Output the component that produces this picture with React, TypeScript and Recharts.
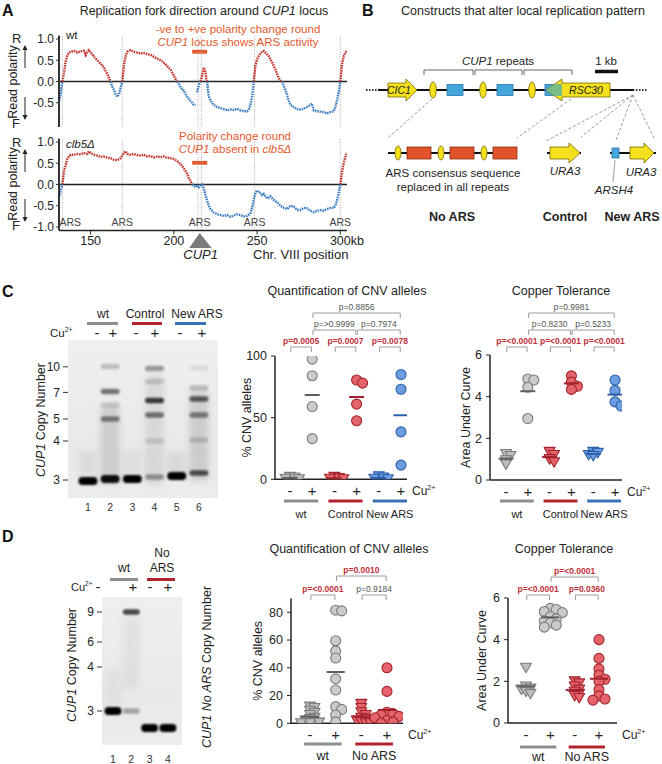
import React from 'react';
import {
  LineChart, Line, XAxis, YAxis, ReferenceLine, ReferenceArea, ScatterChart, Scatter,
} from 'recharts';

const FONT = '"Liberation Sans", Arial, Helvetica, sans-serif';
const INK = '#232323';
const ORANGE = '#e5572c';
const POL_RED = '#c3362d';
const POL_BLUE = '#3d7dc3';

/* ---------------- Panel A data ---------------- */
const chrTicks = [150, 200, 250, 300];
const polarityTicks = [-1, -0.5, 0, 0.5, 1];
const arsSites = [133, 169, 214.5, 216.5, 248.5, 300];
const arsLabelSites = [133, 169, 215.5, 248.5, 300];
const cup1Locus = [211, 220];
const cup1Centre = 215.5;

const wtPolarity: [number, number | null][] = [
  [131, -0.46], [132, -0.3], [133, 0], [134, 0.2], [135, 0.48], [136, 0.62], [137, 0.68], [138, 0.7],
  [140, 0.72], [142, 0.68], [144, 0.71], [146, 0.72], [147, 0.62], [148, 0.7], [149, 0.74], [150, 0.68],
  [151, 0.64], [152, 0.58], [154, 0.5], [156, 0.42], [158, 0.33], [159, 0.25], [160, 0.18], [161, 0.08],
  [162, 0], [163, -0.12], [164, -0.2], [165, -0.3], [166, -0.36], [167, -0.3], [168, -0.15], [169, 0],
  [170, 0.38], [171, 0.6], [172, 0.7], [174, 0.74], [176, 0.7], [178, 0.68], [180, 0.66], [182, 0.67],
  [184, 0.64], [186, 0.63], [188, 0.58], [190, 0.54], [192, 0.5], [194, 0.44], [196, 0.36], [198, 0.28],
  [200, 0.14], [201, 0.06], [202, 0], [203, -0.06], [204, -0.14], [206, -0.22], [208, -0.36], [210, -0.46],
  [211, -0.5], [212, -0.55], [213, -0.56], [213.5, null], [214, -0.25], [215, -0.08], [216, 0], [217, 0.15],
  [218, 0.33], [219, 0.22], [219.5, 0.05], [220, 0], [220.5, -0.2], [221, -0.35], [222, -0.45], [224, -0.55],
  [226, -0.6], [228, -0.63], [230, -0.65], [232, -0.68], [234, -0.66], [236, -0.67], [238, -0.64], [240, -0.68],
  [242, -0.7], [244, -0.7], [245, -0.65], [246, -0.55], [247, -0.35], [248, 0], [249, 0.38], [250, 0.52],
  [251, 0.6], [252, 0.66], [253, 0.7], [254, 0.72], [255, 0.68], [256, 0.64], [257, 0.6], [258, 0.52],
  [259, 0.46], [260, 0.36], [261, 0.28], [262, 0.18], [263, 0.08], [264, 0.02], [265, 0], [266, -0.1],
  [267, -0.2], [268, -0.32], [269, -0.45], [270, -0.55], [272, -0.6], [274, -0.65], [276, -0.66], [278, -0.64],
  [280, -0.6], [282, -0.55], [283, -0.52], [284, -0.68], [286, -0.7], [288, -0.71], [290, -0.72], [292, -0.75],
  [294, -0.72], [296, -0.7], [297, -0.6], [298, -0.45], [299, -0.25], [300, 0], [301, 0.4], [302, 0.6],
  [303, 0.68], [304, 0.72],
];

const clb5Polarity: [number, number | null][] = [
  [131, -0.3], [132, -0.15], [133, 0], [134, 0.32], [135, 0.45], [136, 0.6], [137, 0.66], [138, 0.7],
  [140, 0.7], [142, 0.72], [144, 0.71], [146, 0.74], [148, 0.72], [149, 0.78], [150, 0.74], [152, 0.7],
  [154, 0.68], [156, 0.65], [158, 0.66], [160, 0.63], [162, 0.62], [164, 0.58], [166, 0.57], [168, 0.62],
  [170, 0.75], [171, 0.78], [172, 0.72], [174, 0.7], [176, 0.72], [178, 0.69], [180, 0.68], [182, 0.7],
  [184, 0.66], [186, 0.67], [188, 0.64], [190, 0.66], [192, 0.64], [194, 0.66], [196, 0.63], [198, 0.62],
  [200, 0.6], [202, 0.55], [204, 0.48], [206, 0.38], [208, 0.25], [209, 0.15], [210, 0.08], [211, 0],
  [212, -0.04], [213, -0.06], [214, -0.03], [215, -0.06], [216, -0.02], [217, 0], [218, -0.1], [219, -0.25],
  [220, -0.38], [221, -0.5], [222, -0.58], [224, -0.66], [226, -0.7], [228, -0.72], [230, -0.74], [232, -0.72],
  [234, -0.76], [236, -0.73], [238, -0.7], [240, -0.72], [242, -0.75], [244, -0.74], [246, -0.68], [247, -0.55],
  [248, -0.35], [249, -0.2], [250, -0.14], [251, -0.18], [252, -0.2], [253, -0.25], [254, -0.22], [256, -0.33],
  [258, -0.28], [260, -0.36], [262, -0.42], [264, -0.5], [266, -0.55], [268, -0.58], [270, -0.5], [272, -0.52],
  [274, -0.6], [276, -0.6], [278, -0.55], [280, -0.56], [282, -0.62], [284, -0.65], [286, -0.62], [288, -0.6],
  [290, -0.62], [292, -0.58], [294, -0.55], [296, -0.55], [297, -0.5], [298, -0.38], [299, -0.2], [300, 0],
  [301, 0.3], [302, 0.5], [303, 0.65], [304, 0.75],
];

/* ---------------- Panel C / D gel data (migration in mm from well) ---------------- */
const cGelTickMm = [13.4, 26.2, 39.5, 50.5, 70];
const cGelTickLabels = ['10', '7', '5', '4', '3'];
const cGelLanes = [1, 2, 3, 4, 5, 6];
const cGelBands = [
  { lane: 1, mm: 70.5, level: 1 },
  { lane: 2, mm: 13.3, level: 0.2 }, { lane: 2, mm: 25.8, level: 0.5 }, { lane: 2, mm: 32.5, level: 0.12 },
  { lane: 2, mm: 39.5, level: 0.45 }, { lane: 2, mm: 69.5, level: 0.95 },
  { lane: 3, mm: 69.5, level: 1 },
  { lane: 4, mm: 14.2, level: 0.35 }, { lane: 4, mm: 20.8, level: 0.15 }, { lane: 4, mm: 30.3, level: 0.75 },
  { lane: 4, mm: 37.5, level: 0.5 }, { lane: 4, mm: 50.5, level: 0.12 }, { lane: 4, mm: 68.5, level: 0.35 },
  { lane: 5, mm: 68, level: 1 },
  { lane: 6, mm: 14, level: 0.08 }, { lane: 6, mm: 24, level: 0.2 }, { lane: 6, mm: 29.5, level: 0.6 },
  { lane: 6, mm: 37.5, level: 0.45 }, { lane: 6, mm: 50, level: 0.15 }, { lane: 6, mm: 66.5, level: 0.65 },
];
const cGelSmears = [
  { lane: 1, mm: 62, span: 14, level: 0.06 }, { lane: 2, mm: 52, span: 40, level: 0.12 },
  { lane: 3, mm: 62, span: 14, level: 0.05 }, { lane: 4, mm: 45, span: 55, level: 0.08 },
  { lane: 5, mm: 62, span: 12, level: 0.08 }, { lane: 6, mm: 48, span: 45, level: 0.13 },
];

const dGelLeftTickMm = [7.5, 22.5, 35, 57];
const dGelLeftLabels = ['9', '6', '4', '3'];
const dGelRightTickMm = [15.5, 30, 43, 65.5];
const dGelRightLabels = ['9', '6', '4', '3'];
const dGelLanes = [1, 2, 3, 4];
const dGelBands = [
  { lane: 1, mm: 57, level: 1 },
  { lane: 2, mm: 7.5, level: 0.7 }, { lane: 2, mm: 57, level: 0.3 },
  { lane: 3, mm: 65.5, level: 1 },
  { lane: 4, mm: 65.5, level: 1 },
];
const dGelSmears = [
  { lane: 2, mm: 28, span: 36, level: 0.05 }, { lane: 1, mm: 45, span: 18, level: 0.04 },
];

/* ---------------- Panel C / D dot plot data ---------------- */
const cStrains = ['wt', 'Control', 'New ARS'];
const dStrains = ['wt', 'No ARS'];

const cCnvWtMinus = [2, 1.5, 0.5, 0];
const cCnvWtPlus = [97.5, 84, 59, 33];
const cCnvCtrlMinus = [2, 1, 0.5, 0];
const cCnvCtrlPlus = [80.5, 78, 61, 47.5];
const cCnvNewMinus = [2.5, 1.5, 0.5, 0];
const cCnvNewPlus = [85, 73, 38.5, 11.5];

const cAucWtMinus = [1.25, 1.15, 0.95, 0.75];
const cAucWtPlus = [4.85, 4.8, 4.45, 2.95];
const cAucCtrlMinus = [1.35, 1.2, 1.0, 0.85];
const cAucCtrlPlus = [5.0, 4.7, 4.5, 4.35];
const cAucNewMinus = [1.35, 1.3, 1.2, 1.15];
const cAucNewPlus = [4.8, 4.3, 3.75, 3.55];

const dCnvWtMinus = [12, 11, 9, 7.5, 6, 4, 3, 2, 1, 0.5, 0, 0];
const dCnvWtPlus = [81.5, 81, 59.5, 52, 47, 32, 24, 12, 10, 6, 1];
const dCnvNoArsMinus = [14, 11, 8, 6, 4, 3, 2, 1, 0, 0];
const dCnvNoArsPlus = [40, 23, 8, 7, 6, 5, 4, 2, 1, 0];

const dAucWtMinus = [2.65, 1.75, 1.65, 1.6, 1.5, 1.4];
const dAucWtPlus = [5.5, 5.45, 5.35, 5.3, 5.1, 5.0, 4.9, 4.8, 4.7, 4.6];
const dAucNoArsMinus = [2.0, 1.9, 1.75, 1.6, 1.5, 1.4, 1.3, 1.2];
const dAucNoArsPlus = [4.0, 3.1, 2.6, 2.3, 2.1, 2.0, 1.6, 1.3, 1.15, 1.1];

const cCnvStats = [
  { a: 2, b: 6, row: 0, p: 'p=0.8856', sig: false },
  { a: 2, b: 4, row: 1, p: 'p=>0.9999', sig: false },
  { a: 4, b: 6, row: 1, p: 'p=0.7974', sig: false },
  { a: 1, b: 2, row: 2, p: 'p=0.0005', sig: true },
  { a: 3, b: 4, row: 2, p: 'p=0.0007', sig: true },
  { a: 5, b: 6, row: 2, p: 'p=0.0078', sig: true },
];
const cAucStats = [
  { a: 2, b: 6, row: 0, p: 'p=0.9981', sig: false },
  { a: 2, b: 4, row: 1, p: 'p=0.8230', sig: false },
  { a: 4, b: 6, row: 1, p: 'p=0.5233', sig: false },
  { a: 1, b: 2, row: 2, p: 'p=<0.0001', sig: true },
  { a: 3, b: 4, row: 2, p: 'p=<0.0001', sig: true },
  { a: 5, b: 6, row: 2, p: 'p=<0.0001', sig: true },
];
const dCnvStats = [
  { a: 2, b: 4, row: 0, p: 'p=0.0010', sig: true },
  { a: 1, b: 2, row: 1, p: 'p=<0.0001', sig: true },
  { a: 3, b: 4, row: 1, p: 'p=0.9184', sig: false },
];
const dAucStats = [
  { a: 2, b: 4, row: 0, p: 'p=<0.0001', sig: true },
  { a: 1, b: 2, row: 1, p: 'p=<0.0001', sig: true },
  { a: 3, b: 4, row: 1, p: 'p=0.0360', sig: true },
];

/* ---------------- styling ---------------- */
type Tone = { fill: string; tri: string; stroke: string; mean: string; bar: string };
const TONES: Record<string, Tone> = {
  gray: { fill: '#cbcbcb', tri: '#bdbdbd', stroke: '#7b7b7b', mean: '#5e5e5e', bar: '#8e8e8e' },
  red: { fill: '#e5646c', tri: '#e5646c', stroke: '#a3232c', mean: '#a3232c', bar: '#b3232e' },
  blue: { fill: '#6b9de0', tri: '#6b9de0', stroke: '#2c5fab', mean: '#2c5fab', bar: '#3a72ba' },
};
const SIG_RED = '#c0303a';

/* ---------------- helpers ---------------- */
const mean = (v: number[]) => v.reduce((s, x) => s + x, 0) / v.length;

function swarm(values: number[], pxPerY: number, minD: number, step: number): number[] {
  const order = values.map((_, i) => i).sort((a, b) => values[b] - values[a]);
  const placed: { x: number; y: number }[] = [];
  const offs = new Array(values.length).fill(0);
  for (const i of order) {
    const y = values[i] * pxPerY;
    let chosen = 0;
    for (let k = 0; k < 16; k++) {
      const cand = k === 0 ? 0 : (k % 2 ? 1 : -1) * Math.ceil(k / 2) * step;
      if (placed.every((p) => Math.hypot(p.x - cand, p.y - y) >= minD)) { chosen = cand; break; }
    }
    placed.push({ x: chosen, y });
    offs[i] = chosen;
  }
  return offs;
}

const Cu = ({ x, y, size = 12 }: { x: number; y: number; size?: number }) => (
  <text x={x} y={y} fontSize={size} fill={INK}>
    Cu<tspan fontSize={size * 0.6} dy={-size * 0.42}>2+</tspan>
  </text>
);

/* ---------------- Panel A ---------------- */
const A_LEFT = 59;
const A_RIGHT = 347;
const A_DOMAIN: [number, number] = [131, 304];
const A_PLOT_H = 91.8;
const A_EXTRA = 35;
const aX = (kb: number) => A_LEFT + ((kb - A_DOMAIN[0]) / (A_DOMAIN[1] - A_DOMAIN[0])) * (A_RIGHT - A_LEFT);

function ChrTick(props: any) {
  const { x, y, payload } = props;
  const v = payload.value;
  const last = v === chrTicks[chrTicks.length - 1];
  return (
    <text x={last ? x - 10.4 : x} y={y + 10} textAnchor={last ? 'start' : 'middle'} fontSize={12.5} fill={INK} fontFamily={FONT}>
      {v}{last ? 'kb' : ''}
    </text>
  );
}

function PolarityChart({ series, plotTop, barLevel, withAxis }: { series: [number, number | null][]; plotTop: number; barLevel: number; withAxis: boolean }) {
  const rows = series.map(([kb, v]) => ({
    kb,
    pos: v === null ? null : v >= 0 ? v : null,
    neg: v === null ? null : v <= 0 ? v : null,
  }));
  const axisH = withAxis ? 30 : 0;
  return (
    <div style={{ position: 'absolute', left: 0, top: 0 }}>
      <LineChart width={A_RIGHT + A_EXTRA} height={plotTop + A_PLOT_H + axisH} data={rows}
        margin={{ top: plotTop, right: A_EXTRA, bottom: 0, left: 0 }}>
        <XAxis dataKey="kb" type="number" domain={A_DOMAIN} ticks={chrTicks} hide={!withAxis} height={axisH}
          allowDataOverflow interval={0} axisLine={{ stroke: INK, strokeWidth: 1.5 }} tickLine={{ stroke: INK }}
          tickSize={4} tickMargin={1} tick={<ChrTick />} />
        <YAxis type="number" domain={[-1.08, 1.08]} ticks={polarityTicks} width={A_LEFT} allowDataOverflow
          tickFormatter={(v: number) => v.toFixed(1)} axisLine={{ stroke: '#333', strokeWidth: 2 }}
          tickLine={{ stroke: '#333' }} tickSize={3} tickMargin={2} tick={{ fontSize: 12, fill: INK, fontFamily: FONT }} />
        {arsSites.map((s) => (
          <ReferenceLine key={s} x={s} stroke="#a8a8a8" strokeDasharray="1 1.5" strokeWidth={1} />
        ))}
        <ReferenceLine y={0} stroke="#222" strokeWidth={1.5} />
        <ReferenceArea x1={cup1Locus[0]} x2={cup1Locus[1]} y1={barLevel - 0.045} y2={barLevel + 0.045}
          fill={ORANGE} fillOpacity={1} stroke="none" />
        <Line dataKey="pos" type="linear" stroke={POL_RED} strokeWidth={2.4} strokeDasharray="1.6 0.9"
          dot={false} isAnimationActive={false} connectNulls={false} />
        <Line dataKey="neg" type="linear" stroke={POL_BLUE} strokeWidth={2.4} strokeDasharray="1.6 0.9"
          dot={false} isAnimationActive={false} connectNulls={false} />
      </LineChart>
    </div>
  );
}

function PolarityArrows({ rY, fY, midY }: { rY: number; fY: number; midY: number }) {
  return (
    <g>
      <text x={12} y={rY} fontSize={13} fill={INK}>R</text>
      <text x={12} y={fY} fontSize={13} fill={INK}>F</text>
      <line x1={25} x2={25} y1={rY + 25} y2={rY + 5} stroke={INK} strokeWidth={1} />
      <polygon points={`${22.5},${rY + 7} ${27.5},${rY + 7} ${25},${rY + 2}`} fill={INK} />
      <line x1={25} x2={25} y1={fY - 31} y2={fY - 11} stroke={INK} strokeWidth={1} />
      <polygon points={`${22.5},${fY - 13} ${27.5},${fY - 13} ${25},${fY - 8}`} fill={INK} />
      <text x={0} y={0} fontSize={12.5} fill={INK} textAnchor="middle" transform={`translate(16.5 ${midY}) rotate(-90)`}>
        Read polarity
      </text>
    </g>
  );
}

/* ---------------- Gel charts ---------------- */
type GelSpec = {
  left: number; top: number; plotLeft: number; plotTop: number; plotW: number; plotH: number;
  xDomain: [number, number]; yDomain: [number, number]; bandW: number; rightW: number; laneOffset: number;
};
const cGelSpec: GelSpec = { left: 10, top: 300, plotLeft: 68, plotTop: 340, plotW: 150, plotH: 158, xDomain: [0.1, 6.86], yDomain: [0, 79], bandW: 19, rightW: 0, laneOffset: 13 };
const dGelSpec: GelSpec = { left: 50, top: 560, plotLeft: 102, plotTop: 597, plotW: 80, plotH: 148, xDomain: [0.4, 4.77], yDomain: [0, 74], bandW: 17, rightW: 30, laneOffset: 18 };

function GelChart({ spec, lanes, bands, smears, leftTicks, leftLabels, rightTicks, rightLabels }: any) {
  const pxPerMm = spec.plotH / (spec.yDomain[1] - spec.yDomain[0]);
  const yAxisW = spec.plotLeft - spec.left;
  const width = yAxisW + spec.plotW + spec.rightW;
  const height = spec.plotTop - spec.top + spec.plotH + 22;
  const pts = [...smears, ...bands].map((b: any) => ({ ...b, x: b.lane, y: b.mm }));
  const bandShape = (p: any) => {
    const b = p.payload;
    if (p.cx == null || p.cy == null) return <g />;
    const h = b.span ? b.span * pxPerMm : b.level > 0.8 ? 8 : 5.5;
    return (
      <rect x={p.cx - spec.bandW / 2} y={p.cy - h / 2} width={spec.bandW} height={h} rx={Math.min(h / 2, 4)}
        fill="#000" fillOpacity={b.level} filter={b.span ? 'url(#smearBlur)' : 'url(#bandBlur)'} />
    );
  };
  const tickStyle = { fontSize: 12, fill: INK, fontFamily: FONT };
  return (
    <div style={{ position: 'absolute', left: spec.left, top: spec.top }}>
      <ScatterChart width={width} height={height}
        margin={{ top: spec.plotTop - spec.top, right: 0, bottom: 0, left: 0 }}>
        <XAxis type="number" dataKey="x" domain={spec.xDomain} ticks={lanes} interval={0} height={22}
          axisLine={false} tickLine={false} tickSize={0} tickMargin={0}
          tick={(p: any) => (
            <text x={p.x} y={p.y + spec.laneOffset} textAnchor="middle" fontSize={10.5} fill="#333" fontFamily={FONT}>
              {p.payload.value}
            </text>
          )} />
        <YAxis yAxisId="left" type="number" dataKey="y" reversed domain={spec.yDomain} ticks={leftTicks} interval={0}
          width={yAxisW} axisLine={false} tickLine={{ stroke: '#333' }} tickSize={5} tickMargin={3}
          tickFormatter={(v: number) => leftLabels[leftTicks.indexOf(v)]} tick={tickStyle} />
        {rightTicks ? (
          <YAxis yAxisId="right" orientation="right" type="number" reversed domain={spec.yDomain} ticks={rightTicks}
            interval={0} width={spec.rightW} axisLine={false} tickLine={{ stroke: '#333' }} tickSize={5} tickMargin={2}
            tickFormatter={(v: number) => rightLabels[rightTicks.indexOf(v)]} tick={tickStyle} />
        ) : null}
        <ReferenceArea yAxisId="left" x1={spec.xDomain[0]} x2={spec.xDomain[1]} y1={spec.yDomain[0]} y2={spec.yDomain[1]}
          fill="url(#gelBg)" fillOpacity={1} stroke="none" />
        <Scatter yAxisId="left" data={pts} isAnimationActive={false} shape={bandShape} />
        {rightTicks ? <Scatter yAxisId="right" data={[]} isAnimationActive={false} /> : null}
      </ScatterChart>
    </div>
  );
}

/* ---------------- Dot plots ---------------- */
type PlotSpec = {
  left: number; top: number; plotLeft: number; plotTop: number; plotW: number; plotH: number;
  xDomain: [number, number]; yDomain: [number, number]; yTicks: number[]; r: number; meanW: number; signOffset: number;
};
const cCnvSpec: PlotSpec = { left: 200, top: 300, plotLeft: 275, plotTop: 356, plotW: 132, plotH: 123.3, xDomain: [0.325, 6.27], yDomain: [0, 100], yTicks: [0, 50, 100], r: 5, meanW: 15, signOffset: 17 };
const cAucSpec: PlotSpec = { left: 430, top: 300, plotLeft: 490, plotTop: 355, plotW: 132, plotH: 125, xDomain: [0.266, 6.32], yDomain: [0, 6], yTicks: [0, 2, 4, 6], r: 5, meanW: 15, signOffset: 17 };
const dCnvSpec: PlotSpec = { left: 220, top: 560, plotLeft: 291, plotTop: 598.4, plotW: 112, plotH: 124.9, xDomain: [0.258, 4.625], yDomain: [0, 90], yTicks: [0, 20, 40, 60, 80], r: 5, meanW: 18, signOffset: 17 };
const dAucSpec: PlotSpec = { left: 440, top: 560, plotLeft: 508, plotTop: 598, plotW: 109, plotH: 125, xDomain: [0.262, 4.74], yDomain: [0, 6], yTicks: [0, 2, 4, 6], r: 5, meanW: 18, signOffset: 17 };

const xPx = (s: PlotSpec, x: number) => s.plotLeft + ((x - s.xDomain[0]) / (s.xDomain[1] - s.xDomain[0])) * s.plotW;

type Grp = { x: number; values: number[]; cu: boolean; tone: Tone; strain: number };
function makeGroups(sets: number[][], tones: string[]): Grp[] {
  return sets.map((values, i) => ({
    x: i + 1, values, cu: i % 2 === 1, tone: TONES[tones[Math.floor(i / 2)]], strain: Math.floor(i / 2),
  }));
}

function DotPlot({ spec, groups }: { spec: PlotSpec; groups: Grp[] }) {
  const pxPerX = spec.plotW / (spec.xDomain[1] - spec.xDomain[0]);
  const pxPerY = spec.plotH / (spec.yDomain[1] - spec.yDomain[0]);
  const yAxisW = spec.plotLeft - spec.left;
  const axisH = 30;
  const width = yAxisW + spec.plotW + 4;
  const height = spec.plotTop - spec.top + spec.plotH + axisH;
  return (
    <div style={{ position: 'absolute', left: spec.left, top: spec.top }}>
      <ScatterChart width={width} height={height} margin={{ top: spec.plotTop - spec.top, right: 4, bottom: 0, left: 0 }}>
        <XAxis type="number" dataKey="x" domain={spec.xDomain} ticks={groups.map((g) => g.x)} interval={0}
          allowDataOverflow height={axisH} axisLine={{ stroke: INK, strokeWidth: 1.5 }} tickLine={false}
          tickSize={0} tickMargin={0}
          tick={(p: any) => {
            const g = groups.find((gg) => gg.x === p.payload.value);
            return (
              <text x={p.x} y={p.y + spec.signOffset} textAnchor="middle" fontSize={15} fill={INK} fontFamily={FONT}>
                {g && g.cu ? '+' : '-'}
              </text>
            );
          }} />
        <YAxis type="number" dataKey="y" domain={spec.yDomain} ticks={spec.yTicks} interval={0} width={yAxisW}
          allowDataOverflow axisLine={{ stroke: INK, strokeWidth: 1.5 }} tickLine={{ stroke: INK }} tickSize={4}
          tickMargin={4} tick={{ fontSize: 12.5, fill: INK, fontFamily: FONT }} />
        {groups.map((g, gi) => {
          const offs = g.cu
            ? swarm(g.values, pxPerY, spec.r * 1.15, spec.r * 0.6)
            : swarm(g.values, pxPerY, spec.r * 0.8, spec.r * 0.45);
          const pts = g.values.map((v, i) => ({ x: g.x + offs[i] / pxPerX, y: v }));
          const shape = (p: any) => {
            if (p.cx == null || p.cy == null) return <g />;
            const { cx, cy } = p;
            if (g.cu) {
              return <circle cx={cx} cy={cy} r={spec.r} fill={g.tone.fill} stroke={g.tone.stroke} strokeWidth={1.1} />;
            }
            const w = spec.r * 1.1;
            return (
              <polygon points={`${cx - w},${cy - 4.5} ${cx + w},${cy - 4.5} ${cx},${cy + 5}`}
                fill={g.tone.tri} stroke={g.tone.stroke} strokeWidth={1.1} strokeLinejoin="round" />
            );
          };
          return <Scatter key={'s' + gi} data={pts} isAnimationActive={false} shape={shape} />;
        })}
        {groups.map((g, gi) => (
          <Scatter key={'m' + gi} data={[{ x: g.x, y: mean(g.values) }]} isAnimationActive={false}
            shape={(p: any) => (p.cx == null ? <g /> : (
              <line x1={p.cx - spec.meanW / 2} x2={p.cx + spec.meanW / 2} y1={p.cy} y2={p.cy}
                stroke={g.tone.mean} strokeWidth={2} />
            ))} />
        ))}
      </ScatterChart>
    </div>
  );
}

function PlotDecor({ spec, groups, strains, stats, rows, underlineY, labelY, labelSize, title, titleX, titleY, yTitle, yTitleX }: any) {
  const axisY = spec.plotTop + spec.plotH;
  const right = spec.plotLeft + spec.plotW;
  const nStrains = strains.length;
  return (
    <g>
      <text x={titleX} y={titleY} fontSize={12.5} textAnchor="middle" fill={INK}>{title}</text>
      <text x={0} y={0} fontSize={12.5} textAnchor="middle" fill={INK}
        transform={`translate(${yTitleX} ${spec.plotTop + spec.plotH / 2}) rotate(-90)`}>{yTitle}</text>
      {stats.map((s: any, i: number) => {
        const xa = xPx(spec, s.a) + 0.8;
        const xb = xPx(spec, s.b) - 0.8;
        const y = rows[s.row];
        return (
          <g key={i}>
            <path d={`M${xa},${y + 5} V${y} H${xb} V${y + 5}`} stroke="#9c9c9c" strokeWidth={1} fill="none" />
            <text x={(xa + xb) / 2} y={y - 3} fontSize={8.5} textAnchor="middle"
              fill={s.sig ? SIG_RED : '#555'} fontWeight={s.sig ? 'bold' : 'normal'}>{s.p}</text>
          </g>
        );
      })}
      <Cu x={right + 5} y={axisY + 16} size={12} />
      {Array.from({ length: nStrains }).map((_, k) => {
        const g1 = groups[k * 2];
        const g2 = groups[k * 2 + 1];
        const cx = (xPx(spec, g1.x) + xPx(spec, g2.x)) / 2;
        const half = (xPx(spec, g2.x) - xPx(spec, g1.x)) / 2 + 6;
        return (
          <g key={k}>
            <line x1={cx - half} x2={cx + half} y1={underlineY} y2={underlineY} stroke={g1.tone.bar} strokeWidth={3} />
            <text x={cx} y={labelY} fontSize={labelSize} textAnchor="middle" fill={INK}>{strains[k]}</text>
          </g>
        );
      })}
    </g>
  );
}

/* ---------------- Panel B (schematic) ---------------- */
const YEL = '#f4e01c';
const YEL_S = '#7b6c00';
function arrowPts(x1: number, x2: number, y: number, body: number, head: number, headLen: number, dir: 'r' | 'l') {
  if (dir === 'r') {
    const hx = x2 - headLen;
    return `${x1},${y - body / 2} ${hx},${y - body / 2} ${hx},${y - head / 2} ${x2},${y} ${hx},${y + head / 2} ${hx},${y + body / 2} ${x1},${y + body / 2}`;
  }
  const hx = x1 + headLen;
  return `${x2},${y - body / 2} ${hx},${y - body / 2} ${hx},${y - head / 2} ${x1},${y} ${hx},${y + head / 2} ${hx},${y + body / 2} ${x2},${y + body / 2}`;
}

function PanelB() {
  const ly = 90;
  const low = 153;
  const dash = { stroke: '#9a9a9a', strokeWidth: 1, strokeDasharray: '3 2', fill: 'none' };
  return (
    <g>
      <text x={362} y={16} fontSize={16} fontWeight="bold" fill="#111">B</text>
      <text x={523} y={15} fontSize={12.5} textAnchor="middle" fill={INK}>Constructs that alter local replication pattern</text>
      {[[424, 473], [475, 522], [524, 572]].map(([a, b]) => (
        <path key={a} d={`M${a},75 V70 H${b} V75`} stroke="#666" strokeWidth={1} fill="none" />
      ))}
      <text x={498} y={65} fontSize={11.5} textAnchor="middle" fill={INK}><tspan fontStyle="italic">CUP1</tspan> repeats</text>
      <text x={606} y={65} fontSize={11.5} textAnchor="middle" fill={INK}>1 kb</text>
      <line x1={595} x2={618} y1={71.5} y2={71.5} stroke="#111" strokeWidth={3.5} />
      <line x1={432} y1={99} x2={388} y2={138} {...dash} />
      <line x1={571} y1={99} x2={517} y2={138} {...dash} />
      <line x1={633} y1={95} x2={546} y2={141} {...dash} />
      <line x1={633} y1={95} x2={581} y2={137} {...dash} />
      <line x1={633} y1={95} x2={616} y2={140} {...dash} />
      <line x1={633} y1={95} x2={654} y2={138} {...dash} />
      <line x1={366} x2={378} y1={ly} y2={ly} stroke="#333" strokeWidth={2} strokeDasharray="1.5 1.5" />
      <line x1={378} x2={633} y1={ly} y2={ly} stroke="#111" strokeWidth={2} />
      <line x1={633} x2={648} y1={ly} y2={ly} stroke="#333" strokeWidth={2} strokeDasharray="1.5 1.5" />
      <polygon points={arrowPts(388, 417, ly, 14, 22, 11, 'r')} fill={YEL} stroke={YEL_S} strokeWidth={0.8} />
      <text x={399} y={ly + 4} fontSize={10.5} fontStyle="italic" textAnchor="middle" fill={INK}>CIC1</text>
      {[433, 483, 532].map((x) => (
        <ellipse key={x} cx={x} cy={ly} rx={3.3} ry={8} fill={YEL} stroke={YEL_S} strokeWidth={0.8} />
      ))}
      {[447, 497].map((x) => (
        <rect key={x} x={x} y={ly - 5.5} width={16} height={11} fill="#45a6dc" stroke="#2a78aa" strokeWidth={0.8} />
      ))}
      <rect x={545} y={ly - 5.5} width={12} height={11} fill="#45a6dc" stroke="#2a78aa" strokeWidth={0.8} />
      <polygon points={arrowPts(546, 610, ly, 14, 22, 16, 'l')} fill={YEL} stroke={YEL_S} strokeWidth={0.8} />
      <polygon points={`546,${ly} 555,${ly - 6} 562,${ly - 6} 562,${ly + 6} 555,${ly + 6}`} fill="#72bb8c" opacity={0.95} />
      <text x={586} y={ly + 4} fontSize={10.5} fontStyle="italic" textAnchor="middle" fill={INK}>RSC30</text>
      <line x1={388} x2={517} y1={low} y2={low} stroke="#111" strokeWidth={2} />
      {[407, 450, 493].map((x) => (
        <rect key={x} x={x} y={low - 6} width={24} height={12} fill="#e2522b" stroke="#8b2e12" strokeWidth={0.8} />
      ))}
      {[398, 441, 484].map((x) => (
        <ellipse key={x} cx={x} cy={low} rx={3} ry={7} fill={YEL} stroke={YEL_S} strokeWidth={0.8} />
      ))}
      <text x={453} y={177} fontSize={11.5} textAnchor="middle" fill={INK}>ARS consensus sequence</text>
      <text x={453} y={191} fontSize={11.5} textAnchor="middle" fill={INK}>replaced in all repeats</text>
      <line x1={547} x2={581} y1={low} y2={low} stroke="#111" strokeWidth={2} />
      <polygon points={arrowPts(550, 580, low, 12, 20, 11, 'r')} fill={YEL} stroke={YEL_S} strokeWidth={0.8} />
      <text x={565} y={175} fontSize={11.5} fontStyle="italic" textAnchor="middle" fill={INK}>URA3</text>
      <line x1={610} x2={656} y1={low} y2={low} stroke="#111" strokeWidth={2} />
      <rect x={612} y={low - 5} width={7} height={10} fill="#45a6dc" stroke="#2a78aa" strokeWidth={0.8} />
      <polygon points={arrowPts(630, 654, low, 12, 20, 10, 'r')} fill={YEL} stroke={YEL_S} strokeWidth={0.8} />
      <line x1={615} y1={160} x2={613} y2={182} stroke="#888" strokeWidth={0.8} />
      <text x={641} y={176} fontSize={11.5} fontStyle="italic" textAnchor="middle" fill={INK}>URA3</text>
      <text x={614} y={194} fontSize={11.5} fontStyle="italic" textAnchor="middle" fill={INK}>ARSH4</text>
      <text x={452} y={221} fontSize={12.5} fontWeight="bold" textAnchor="middle" fill={INK}>No ARS</text>
      <text x={565} y={221} fontSize={12.5} fontWeight="bold" textAnchor="middle" fill={INK}>Control</text>
      <text x={632} y={221} fontSize={12.5} fontWeight="bold" textAnchor="middle" fill={INK}>New ARS</text>
    </g>
  );
}

/* ---------------- App ---------------- */
export default function App() {
  const cCnvGroups = makeGroups([cCnvWtMinus, cCnvWtPlus, cCnvCtrlMinus, cCnvCtrlPlus, cCnvNewMinus, cCnvNewPlus], ['gray', 'red', 'blue']);
  const cAucGroups = makeGroups([cAucWtMinus, cAucWtPlus, cAucCtrlMinus, cAucCtrlPlus, cAucNewMinus, cAucNewPlus], ['gray', 'red', 'blue']);
  const dCnvGroups = makeGroups([dCnvWtMinus, dCnvWtPlus, dCnvNoArsMinus, dCnvNoArsPlus], ['gray', 'red']);
  const dAucGroups = makeGroups([dAucWtMinus, dAucWtPlus, dAucNoArsMinus, dAucNoArsPlus], ['gray', 'red']);

  const cSigns = [97, 113, 136, 155, 180, 202];
  const dSigns = [98, 133, 150, 168];

  return (
    <div style={{ position: 'absolute', left: 0, top: 0, width: 662, height: 764, background: '#fff', overflow: 'hidden', fontFamily: FONT }}>
      <svg width={0} height={0} style={{ position: 'absolute' }}>
        <defs>
          <filter id="bandBlur" x="-50%" y="-100%" width="200%" height="300%">
            <feGaussianBlur stdDeviation="1.1" />
          </filter>
          <filter id="smearBlur" x="-50%" y="-50%" width="200%" height="200%">
            <feGaussianBlur stdDeviation="3" />
          </filter>
          <linearGradient id="gelBg" x1="0" y1="0" x2="0" y2="1">
            <stop offset="0" stopColor="#efefef" />
            <stop offset="0.7" stopColor="#e9e9e9" />
            <stop offset="1" stopColor="#ececec" />
          </linearGradient>
        </defs>
      </svg>

      <PolarityChart series={wtPolarity} plotTop={35.6} barLevel={0.7} withAxis={false} />
      <PolarityChart series={clb5Polarity} plotTop={138.6} barLevel={0.51} withAxis />

      <GelChart spec={cGelSpec} lanes={cGelLanes} bands={cGelBands} smears={cGelSmears}
        leftTicks={cGelTickMm} leftLabels={cGelTickLabels} />
      <GelChart spec={dGelSpec} lanes={dGelLanes} bands={dGelBands} smears={dGelSmears}
        leftTicks={dGelLeftTickMm} leftLabels={dGelLeftLabels} rightTicks={dGelRightTickMm} rightLabels={dGelRightLabels} />

      <DotPlot spec={cCnvSpec} groups={cCnvGroups} />
      <DotPlot spec={cAucSpec} groups={cAucGroups} />
      <DotPlot spec={dCnvSpec} groups={dCnvGroups} />
      <DotPlot spec={dAucSpec} groups={dAucGroups} />

      <svg width={662} height={764} style={{ position: 'absolute', left: 0, top: 0, pointerEvents: 'none' }} fontFamily={FONT}>
        {/* ---- Panel A ---- */}
        <text x={2} y={16} fontSize={16} fontWeight="bold" fill="#111">A</text>
        <text x={204} y={15} fontSize={12.5} textAnchor="middle" fill={INK}>
          Replication fork direction around <tspan fontStyle="italic">CUP1</tspan> locus
        </text>
        <text x={66} y={39} fontSize={11.5} fill={INK}>wt</text>
        <text x={66} y={148} fontSize={11.5} fill={INK} fontStyle="italic">clb5Δ</text>
        <text x={238} y={33} fontSize={11.5} textAnchor="middle" fill={ORANGE}>-ve to +ve polarity change round</text>
        <text x={238} y={46} fontSize={11.5} textAnchor="middle" fill={ORANGE}>
          <tspan fontStyle="italic">CUP1</tspan> locus shows ARS activity
        </text>
        <text x={235} y={140} fontSize={11.5} textAnchor="middle" fill={ORANGE}>Polarity change round</text>
        <text x={235} y={153} fontSize={11.5} textAnchor="middle" fill={ORANGE}>
          <tspan fontStyle="italic">CUP1</tspan> absent in <tspan fontStyle="italic">clb5Δ</tspan>
        </text>
        <PolarityArrows rY={43} fY={128} midY={82} />
        <PolarityArrows rY={147} fY={230} midY={184} />
        {arsLabelSites.map((s, i) => (
          <text key={s} x={aX(s) + (i === 0 ? 8 : 0)} y={226} fontSize={10.5} textAnchor="middle" fill="#444">ARS</text>
        ))}
        <polygon points={`${aX(cup1Centre)},233 ${aX(cup1Centre) - 10.5},248 ${aX(cup1Centre) + 12},248`} fill="#7a7a7a" />
        <text x={aX(cup1Centre) + 1} y={259} fontSize={13} fontStyle="italic" textAnchor="middle" fill={INK}>CUP1</text>
        <text x={253} y={259} fontSize={13} fill={INK}>Chr. VIII position</text>

        {/* ---- Panel B ---- */}
        <PanelB />

        {/* ---- Panel C ---- */}
        <text x={2} y={297} fontSize={16} fontWeight="bold" fill="#111">C</text>
        <text x={103} y={318} fontSize={12} textAnchor="middle" fill={INK}>wt</text>
        <text x={145} y={318} fontSize={12} textAnchor="middle" fill={INK}>Control</text>
        <text x={197} y={318} fontSize={12} textAnchor="middle" fill={INK}>New ARS</text>
        <line x1={87} x2={118} y1={323.5} y2={323.5} stroke={TONES.gray.bar} strokeWidth={3} />
        <line x1={132} x2={162} y1={323.5} y2={323.5} stroke={TONES.red.bar} strokeWidth={3} />
        <line x1={175} x2={206} y1={323.5} y2={323.5} stroke={TONES.blue.bar} strokeWidth={3} />
        <Cu x={50} y={337} size={11.5} />
        {cSigns.map((x, i) => (
          <text key={i} x={x} y={338} fontSize={15} textAnchor="middle" fill={INK}>{i % 2 ? '+' : '-'}</text>
        ))}
        <text x={0} y={0} fontSize={12.5} textAnchor="middle" fill={INK} transform="translate(45 420) rotate(-90)">
          <tspan fontStyle="italic">CUP1</tspan> Copy Number
        </text>
        <PlotDecor spec={cCnvSpec} groups={cCnvGroups} strains={cStrains} stats={cCnvStats} rows={[313, 330, 347]}
          underlineY={501} labelY={518} labelSize={11} title="Quantification of CNV alleles" titleX={347} titleY={295}
          yTitle="% CNV alleles" yTitleX={251} />
        <PlotDecor spec={cAucSpec} groups={cAucGroups} strains={cStrains} stats={cAucStats} rows={[313, 330, 347]}
          underlineY={501} labelY={518} labelSize={11} title="Copper Tolerance" titleX={561} titleY={295}
          yTitle="Area Under Curve" yTitleX={470} />

        {/* ---- Panel D ---- */}
        <text x={2} y={542} fontSize={16} fontWeight="bold" fill="#111">D</text>
        <text x={124} y={572} fontSize={12} textAnchor="middle" fill={INK}>wt</text>
        <text x={162} y={557} fontSize={12} textAnchor="middle" fill={INK}>No</text>
        <text x={162} y={572} fontSize={12} textAnchor="middle" fill={INK}>ARS</text>
        <line x1={110} x2={138} y1={579.5} y2={579.5} stroke={TONES.gray.bar} strokeWidth={3} />
        <line x1={147} x2={175} y1={579.5} y2={579.5} stroke={TONES.red.bar} strokeWidth={3} />
        <Cu x={71} y={591} size={11} />
        {dSigns.map((x, i) => (
          <text key={i} x={x} y={592} fontSize={15} textAnchor="middle" fill={INK}>{i % 2 ? '+' : '-'}</text>
        ))}
        <text x={0} y={0} fontSize={12.5} textAnchor="middle" fill={INK} transform="translate(76 665) rotate(-90)">
          <tspan fontStyle="italic">CUP1</tspan> Copy Number
        </text>
        <text x={0} y={0} fontSize={12.5} textAnchor="middle" fill={INK} transform="translate(211 667) rotate(-90)">
          <tspan fontStyle="italic">CUP1 No ARS</tspan> Copy Number
        </text>
        <PlotDecor spec={dCnvSpec} groups={dCnvGroups} strains={dStrains} stats={dCnvStats} rows={[576, 595]}
          underlineY={744} labelY={760} labelSize={12.5} title="Quantification of CNV alleles" titleX={349} titleY={553}
          yTitle="% CNV alleles" yTitleX={262} />
        <PlotDecor spec={dAucSpec} groups={dAucGroups} strains={dStrains} stats={dAucStats} rows={[577, 595]}
          underlineY={747} labelY={761} labelSize={12.5} title="Copper Tolerance" titleX={564} titleY={553}
          yTitle="Area Under Curve" yTitleX={486} />
      </svg>
    </div>
  );
}
